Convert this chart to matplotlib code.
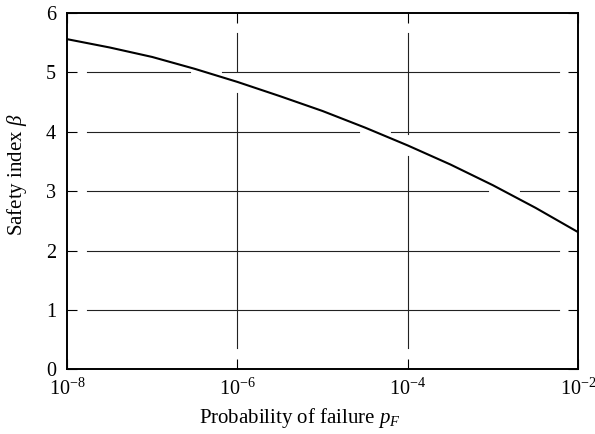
import matplotlib
matplotlib.use("Agg")
import matplotlib.pyplot as plt
import numpy as np
from matplotlib.ticker import NullLocator, LogFormatterSciNotation

plt.rcParams["font.family"] = ["Liberation Serif", "DejaVu Serif"]
plt.rcParams["mathtext.fontset"] = "custom"
plt.rcParams["mathtext.rm"] = "Liberation Serif"
plt.rcParams["mathtext.it"] = "Liberation Serif:italic"
plt.rcParams["font.size"] = 15

# curve (exponent of p_F, safety index beta)
pf_exponent = [-8.0, -7.5, -7.0, -6.5, -6.0, -5.5, -5.0, -4.5, -4.0, -3.5, -3.0, -2.5, -2.0]
beta = [5.56, 5.42, 5.26, 5.06, 4.84, 4.60, 4.35, 4.07, 3.77, 3.45, 3.10, 2.72, 2.31]

x_ticks = [1e-8, 1e-6, 1e-4, 1e-2]
y_ticks = [0, 1, 2, 3, 4, 5, 6]
grid_y = [1, 2, 3, 4, 5]
grid_x = [1e-6, 1e-4]

pf = 10.0 ** np.array(pf_exponent)

fig = plt.figure(figsize=(5.95, 4.34), dpi=100)
ax = fig.add_axes([0.1126, 0.149, 0.859, 0.821])

ax.set_xscale("log")
ax.set_xlim(1e-8, 1e-2)
ax.set_ylim(0, 6)

# pixel -> data sizes for the interrupted grid lines
decade_px = 511 / 6.0
unit_px = 356 / 6.0
h_start, h_end = -8 + 20 / decade_px, -2 - 19 / decade_px
h_gap = 16 / decade_px
v_lo, v_hi = 21 / unit_px, 6 - 20 / unit_px
v_gap = 11 / unit_px

grid_kw = dict(color="#222222", lw=0.8, zorder=1)
exp_arr = np.array(pf_exponent)
beta_arr = np.array(beta)

for yv in grid_y:
    segs = [(h_start, h_end)]
    if beta_arr.min() <= yv <= beta_arr.max():
        xc = np.interp(yv, beta_arr[::-1], exp_arr[::-1])
        segs = [(h_start, xc - h_gap), (xc + h_gap, h_end)]
    for a, b in segs:
        ax.plot([10 ** a, 10 ** b], [yv, yv], **grid_kw)

for xv in grid_x:
    yc = np.interp(np.log10(xv), exp_arr, beta_arr)
    for a, b in [(v_lo, yc - v_gap), (yc + v_gap, v_hi)]:
        ax.plot([xv, xv], [a, b], **grid_kw)

ax.plot(pf, beta, color="black", lw=1.5, zorder=3)

ax.set_xticks(x_ticks)
ax.xaxis.set_minor_locator(NullLocator())
ax.xaxis.set_major_formatter(LogFormatterSciNotation())
ax.set_yticks(y_ticks)
ax.tick_params(direction="in", length=7.2, width=0.8, top=True, right=True,
               labelsize=14.5)
ax.tick_params(axis="y", pad=8)
ax.tick_params(axis="x", pad=7)
for s in ax.spines.values():
    s.set_linewidth(1.4)

ax.set_xlabel(r"Probability of failure $p_F$", fontsize=15)
ax.set_ylabel(r"Safety index $\beta$", fontsize=15)
ax.xaxis.set_label_coords(0.456, -0.102)
ax.yaxis.set_label_coords(-0.074, 0.546)

fig.savefig("out.png", dpi=100)
